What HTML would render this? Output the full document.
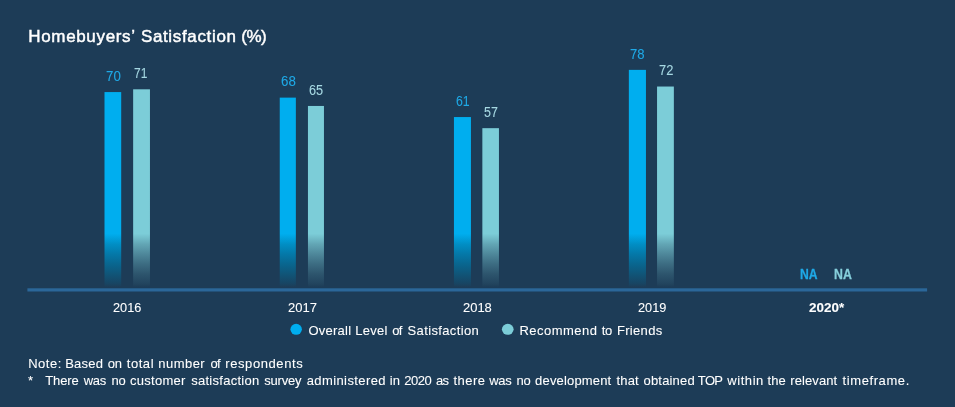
<!DOCTYPE html>
<html lang="en"><head><meta charset="utf-8"><title>Homebuyers' Satisfaction (%)</title>
<style>
html,body{margin:0;padding:0;}
body{width:955px;height:407px;background:#1d3c57;position:relative;overflow:hidden;font-family:"Liberation Sans",sans-serif;color:#fff;-webkit-text-stroke:0.08px currentColor;}
.t{position:absolute;white-space:nowrap;line-height:1;transform-origin:0 0;}
.w{position:absolute;top:0;white-space:nowrap;}
.bar{position:absolute;}
.c1{color:#1fa9e6;}
.c2{color:#a6d8e2;}
.dot{position:absolute;width:11px;height:11px;border-radius:50%;}
</style></head><body>

<div class="t" style="left:0;top:27.51px;font-size:17.0px;width:955px;height:17.0px;-webkit-text-stroke:0.45px currentColor;color:#fff;"><span class="w" style="left:28.30px;letter-spacing:0.655px">Homebuyers’</span> <span class="w" style="left:140.90px;letter-spacing:0.655px">Satisfaction</span> <span class="w" style="left:241.35px;letter-spacing:-0.575px">(%)</span></div>
<svg width="955" height="407" viewBox="0 0 955 407" style="position:absolute;left:0;top:0"><defs><linearGradient id="g1" x1="0" y1="0" x2="0" y2="1"><stop offset="0.0000" stop-color="#00aeef"/><stop offset="0.7228" stop-color="#00aeef"/><stop offset="0.7773" stop-color="#018ec4"/><stop offset="0.8279" stop-color="#0478a8"/><stop offset="0.8779" stop-color="#09668f"/><stop offset="0.9285" stop-color="#105578"/><stop offset="0.9786" stop-color="#184462"/><stop offset="0.9949" stop-color="#1d3c57"/><stop offset="1.0000" stop-color="#1d3c57"/></linearGradient><linearGradient id="g2" x1="0" y1="0" x2="0" y2="1"><stop offset="0.0000" stop-color="#7ccdd8"/><stop offset="0.7267" stop-color="#7ccdd8"/><stop offset="0.7804" stop-color="#62a5b4"/><stop offset="0.8303" stop-color="#4e879a"/><stop offset="0.8796" stop-color="#3c6c82"/><stop offset="0.9295" stop-color="#2d556d"/><stop offset="0.9789" stop-color="#22445e"/><stop offset="0.9950" stop-color="#1d3c57"/><stop offset="1.0000" stop-color="#1d3c57"/></linearGradient><linearGradient id="g3" x1="0" y1="0" x2="0" y2="1"><stop offset="0.0000" stop-color="#00aeef"/><stop offset="0.7148" stop-color="#00aeef"/><stop offset="0.7708" stop-color="#018ec4"/><stop offset="0.8228" stop-color="#0478a8"/><stop offset="0.8744" stop-color="#09668f"/><stop offset="0.9264" stop-color="#105578"/><stop offset="0.9779" stop-color="#184462"/><stop offset="0.9947" stop-color="#1d3c57"/><stop offset="1.0000" stop-color="#1d3c57"/></linearGradient><linearGradient id="g4" x1="0" y1="0" x2="0" y2="1"><stop offset="0.0000" stop-color="#7ccdd8"/><stop offset="0.7017" stop-color="#7ccdd8"/><stop offset="0.7603" stop-color="#62a5b4"/><stop offset="0.8147" stop-color="#4e879a"/><stop offset="0.8686" stop-color="#3c6c82"/><stop offset="0.9231" stop-color="#2d556d"/><stop offset="0.9769" stop-color="#22445e"/><stop offset="0.9945" stop-color="#1d3c57"/><stop offset="1.0000" stop-color="#1d3c57"/></linearGradient><linearGradient id="g5" x1="0" y1="0" x2="0" y2="1"><stop offset="0.0000" stop-color="#00aeef"/><stop offset="0.6823" stop-color="#00aeef"/><stop offset="0.7447" stop-color="#018ec4"/><stop offset="0.8027" stop-color="#0478a8"/><stop offset="0.8601" stop-color="#09668f"/><stop offset="0.9181" stop-color="#105578"/><stop offset="0.9754" stop-color="#184462"/><stop offset="0.9941" stop-color="#1d3c57"/><stop offset="1.0000" stop-color="#1d3c57"/></linearGradient><linearGradient id="g6" x1="0" y1="0" x2="0" y2="1"><stop offset="0.0000" stop-color="#7ccdd8"/><stop offset="0.6603" stop-color="#7ccdd8"/><stop offset="0.7270" stop-color="#62a5b4"/><stop offset="0.7890" stop-color="#4e879a"/><stop offset="0.8503" stop-color="#3c6c82"/><stop offset="0.9124" stop-color="#2d556d"/><stop offset="0.9737" stop-color="#22445e"/><stop offset="0.9937" stop-color="#1d3c57"/><stop offset="1.0000" stop-color="#1d3c57"/></linearGradient><linearGradient id="g7" x1="0" y1="0" x2="0" y2="1"><stop offset="0.0000" stop-color="#00aeef"/><stop offset="0.7511" stop-color="#00aeef"/><stop offset="0.7999" stop-color="#018ec4"/><stop offset="0.8454" stop-color="#0478a8"/><stop offset="0.8903" stop-color="#09668f"/><stop offset="0.9358" stop-color="#105578"/><stop offset="0.9808" stop-color="#184462"/><stop offset="0.9954" stop-color="#1d3c57"/><stop offset="1.0000" stop-color="#1d3c57"/></linearGradient><linearGradient id="g8" x1="0" y1="0" x2="0" y2="1"><stop offset="0.0000" stop-color="#7ccdd8"/><stop offset="0.7305" stop-color="#7ccdd8"/><stop offset="0.7834" stop-color="#62a5b4"/><stop offset="0.8326" stop-color="#4e879a"/><stop offset="0.8813" stop-color="#3c6c82"/><stop offset="0.9305" stop-color="#2d556d"/><stop offset="0.9792" stop-color="#22445e"/><stop offset="0.9950" stop-color="#1d3c57"/><stop offset="1.0000" stop-color="#1d3c57"/></linearGradient></defs><rect x="104.50" y="92.08" width="16.70" height="195.92" fill="url(#g1)"/><rect x="133.15" y="89.30" width="16.80" height="198.70" fill="url(#g2)"/><rect x="279.75" y="97.63" width="16.10" height="190.37" fill="url(#g3)"/><rect x="307.95" y="105.96" width="16.00" height="182.04" fill="url(#g4)"/><rect x="453.95" y="117.06" width="17.00" height="170.94" fill="url(#g5)"/><rect x="482.35" y="128.17" width="16.60" height="159.83" fill="url(#g6)"/><rect x="628.85" y="69.87" width="17.10" height="218.13" fill="url(#g7)"/><rect x="657.05" y="86.53" width="16.80" height="201.47" fill="url(#g8)"/><rect x="27.4" y="288.3" width="899.7" height="3.2" fill="#2b6799"/><ellipse cx="296.15" cy="329.3" rx="5.75" ry="5.5" fill="#00aeef"/><ellipse cx="507.75" cy="329.3" rx="5.85" ry="5.5" fill="#7ccdd8"/></svg>
<div class="t c1" style="left:105.68px;top:69.70px;font-size:13.8px;transform:scaleX(0.9643);">70</div>
<div class="t c2" style="left:134.45px;top:67.15px;font-size:13.8px;transform:scaleX(0.8714);">71</div>
<div class="t " style="left:113.30px;top:301.00px;font-size:13.6px;transform:scaleX(0.9345);">2016</div>
<div class="t c1" style="left:280.68px;top:74.70px;font-size:13.8px;transform:scaleX(0.9643);">68</div>
<div class="t c2" style="left:309.01px;top:83.95px;font-size:13.8px;transform:scaleX(0.9214);">65</div>
<div class="t " style="left:287.68px;top:301.00px;font-size:13.6px;transform:scaleX(0.9565);">2017</div>
<div class="t c1" style="left:455.53px;top:94.65px;font-size:13.8px;transform:scaleX(0.8929);">61</div>
<div class="t c2" style="left:483.95px;top:105.75px;font-size:13.8px;transform:scaleX(0.9053);">57</div>
<div class="t " style="left:462.69px;top:301.00px;font-size:13.6px;transform:scaleX(0.9517);">2018</div>
<div class="t c1" style="left:630.49px;top:47.85px;font-size:13.8px;transform:scaleX(0.9500);">78</div>
<div class="t c2" style="left:658.50px;top:63.95px;font-size:13.8px;transform:scaleX(0.9357);">72</div>
<div class="t " style="left:637.50px;top:301.00px;font-size:13.6px;transform:scaleX(0.9379);">2019</div>
<div class="t c1" style="left:800.17px;top:267.15px;font-size:14.4px;transform:scaleX(0.8456);font-weight:bold;-webkit-text-stroke:0.3px currentColor;">NA</div>
<div class="t c2" style="left:834.16px;top:267.15px;font-size:14.4px;transform:scaleX(0.8557);font-weight:bold;-webkit-text-stroke:0.3px currentColor;color:#86cfdb;">NA</div>
<div class="t " style="left:808.91px;top:300.80px;font-size:13.7px;transform:scaleX(0.9844);font-weight:bold;">2020*</div>
<div class="t" style="left:0;top:323.65px;font-size:13px;width:955px;height:13px;"><span class="w" style="left:308.40px;letter-spacing:0.242px">Overall</span> <span class="w" style="left:355.30px;letter-spacing:0.263px">Level</span> <span class="w" style="left:392.30px;letter-spacing:-0.900px">of</span> <span class="w" style="left:407.55px;letter-spacing:0.359px">Satisfaction</span></div>
<div class="t" style="left:0;top:323.65px;font-size:13px;width:955px;height:13px;"><span class="w" style="left:519.40px;letter-spacing:0.494px">Recommend</span> <span class="w" style="left:601.75px;letter-spacing:-0.300px">to</span> <span class="w" style="left:616.90px;letter-spacing:0.333px">Friends</span></div>
<div class="t" style="left:0;top:356.65px;font-size:13px;width:955px;height:13px;"><span class="w" style="left:28.20px;letter-spacing:0.525px">Note:</span> <span class="w" style="left:65.20px;letter-spacing:0.225px">Based</span> <span class="w" style="left:107.80px;letter-spacing:-0.250px">on</span> <span class="w" style="left:126.75px;letter-spacing:0.550px">total</span> <span class="w" style="left:158.25px;letter-spacing:0.470px">number</span> <span class="w" style="left:210.60px;letter-spacing:-0.700px">of</span> <span class="w" style="left:225.25px;letter-spacing:0.585px">respondents</span></div>
<div class="t" style="left:0;top:373.65px;font-size:13px;width:955px;height:13px;"><span class="w" style="left:27.95px;letter-spacing:0.000px">*</span> <span class="w" style="left:45.35px;letter-spacing:-0.162px">There</span> <span class="w" style="left:83.80px;letter-spacing:-0.375px">was</span> <span class="w" style="left:111.45px;letter-spacing:-0.150px">no</span> <span class="w" style="left:130.00px;letter-spacing:0.264px">customer</span> <span class="w" style="left:191.20px;letter-spacing:0.277px">satisfaction</span> <span class="w" style="left:264.20px;letter-spacing:-0.190px">survey</span> <span class="w" style="left:306.70px;letter-spacing:0.400px">administered</span> <span class="w" style="left:389.75px;letter-spacing:0.100px">in</span> <span class="w" style="left:404.20px;letter-spacing:-0.500px">2020</span> <span class="w" style="left:436.00px;letter-spacing:-0.650px">as</span> <span class="w" style="left:453.55px;letter-spacing:0.438px">there</span> <span class="w" style="left:489.30px;letter-spacing:-0.325px">was</span> <span class="w" style="left:516.55px;letter-spacing:-0.350px">no</span> <span class="w" style="left:535.10px;letter-spacing:0.165px">development</span> <span class="w" style="left:616.55px;letter-spacing:0.150px">that</span> <span class="w" style="left:643.50px;letter-spacing:0.186px">obtained</span> <span class="w" style="left:697.85px;letter-spacing:-0.650px">TOP</span> <span class="w" style="left:727.30px;letter-spacing:0.560px">within</span> <span class="w" style="left:767.55px;letter-spacing:0.075px">the</span> <span class="w" style="left:790.35px;letter-spacing:0.086px">relevant</span> <span class="w" style="left:842.55px;letter-spacing:0.589px">timeframe.</span></div>
</body></html>
